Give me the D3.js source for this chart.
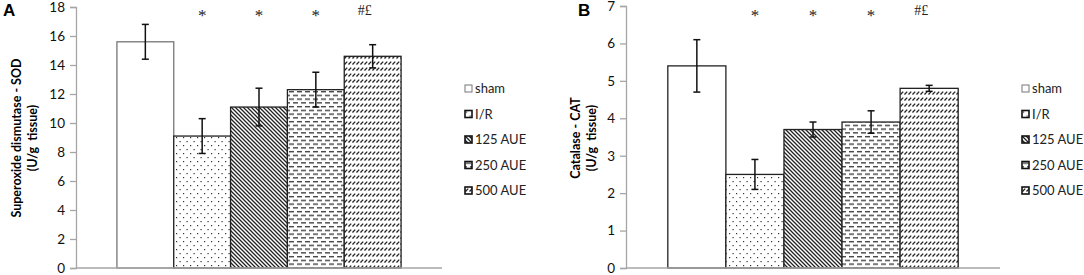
<!DOCTYPE html>
<html>
<head>
<meta charset="utf-8">
<script src="https://cdn.jsdelivr.net/npm/d3@7"></script>
<style>
  body { margin: 0; background: #fff; }
  svg { display: block; }
  text { font-family: Lato, "Open Sans", sans-serif; }
</style>
</head>
<body>
<div id="graph-wrapper"></div>
<script>
// groups shown on both panels
const groups = ["sham", "I/R", "125 AUE", "250 AUE", "500 AUE"];
const patterns = ["none", "dots", "diag", "dash", "slash"];

// panel A - SOD
const sodMean = [15.6, 9.1, 11.1, 12.3, 14.6];
const sodErr = [1.2, 1.2, 1.3, 1.2, 0.8];
const sodTicks = [0, 2, 4, 6, 8, 10, 12, 14, 16, 18];

// panel B - CAT
const catMean = [5.4, 2.5, 3.7, 3.9, 4.8];
const catErr = [0.7, 0.4, 0.2, 0.3, 0.08];
const catTicks = [0, 1, 2, 3, 4, 5, 6, 7];

// significance marks above the bars
const marks = ["", "*", "*", "*", "#£"];

const width = 1084;
const height = 275;

const svg = d3.select("#graph-wrapper").append("svg")
    .attr("width", width)
    .attr("height", height);

// fill patterns
const defs = svg.append("defs");

const dots = defs.append("pattern").attr("id", "dots")
    .attr("patternUnits", "userSpaceOnUse").attr("width", 7).attr("height", 8);
dots.append("rect").attr("width", 7).attr("height", 8).attr("fill", "#fff");
dots.append("rect").attr("x", 1).attr("y", 1).attr("width", 1.2).attr("height", 1.2).attr("fill", "#333");
dots.append("rect").attr("x", 4.5).attr("y", 5).attr("width", 1.2).attr("height", 1.2).attr("fill", "#333");

const diag = defs.append("pattern").attr("id", "diag")
    .attr("patternUnits", "userSpaceOnUse").attr("width", 4).attr("height", 4);
diag.append("rect").attr("width", 4).attr("height", 4).attr("fill", "#fff");
diag.append("path").attr("d", "M0,0L4,4M-1,3L1,5M3,-1L5,1")
    .attr("stroke", "#222").attr("stroke-width", 1.3);

const dash = defs.append("pattern").attr("id", "dash")
    .attr("patternUnits", "userSpaceOnUse").attr("width", 8).attr("height", 7.5);
dash.append("rect").attr("width", 8).attr("height", 7.5).attr("fill", "#fff");
dash.append("rect").attr("x", 1).attr("y", 1).attr("width", 5).attr("height", 1.3).attr("fill", "#333");
dash.append("rect").attr("x", 5).attr("y", 4.75).attr("width", 5).attr("height", 1.3).attr("fill", "#333");
dash.append("rect").attr("x", -3).attr("y", 4.75).attr("width", 5).attr("height", 1.3).attr("fill", "#333");

const slash = defs.append("pattern").attr("id", "slash")
    .attr("patternUnits", "userSpaceOnUse").attr("width", 4).attr("height", 6);
slash.append("rect").attr("width", 4).attr("height", 6).attr("fill", "#fff");
slash.append("path").attr("d", "M0.5,4.5L3.2,1.6")
    .attr("stroke", "#222").attr("stroke-width", 1.3);

function fillOf(i) {
  return patterns[i] === "none" ? "#fff" : `url(#${patterns[i]})`;
}

function drawPanel(o) {
  const g = svg.append("g");

  const y = d3.scaleLinear().domain([0, o.max]).range([268, o.top]);
  const x = d3.scaleBand().domain(groups)
      .range([o.left, o.right]).paddingOuter(0.72).paddingInner(0);

  // y axis
  const yAxis = g.append("g")
      .attr("transform", `translate(${o.left},0)`)
      .call(d3.axisLeft(y).tickValues(o.ticks).tickFormat(d3.format("d"))
        .tickSize(6).tickPadding(5));
  yAxis.select(".domain").attr("stroke", "#a6a6a6").attr("stroke-width", 1.3);
  yAxis.selectAll(".tick line").attr("stroke", "#a6a6a6").attr("stroke-width", 1.3);
  yAxis.selectAll(".tick text").attr("font-size", 13.5).attr("fill", "#111")
      .style("font-family", "Lato, sans-serif");

  // bars
  g.selectAll(".bar").data(o.mean).join("rect")
      .attr("x", (d, i) => x(groups[i]))
      .attr("y", d => y(d))
      .attr("width", x.bandwidth())
      .attr("height", d => y(0) - y(d))
      .attr("fill", (d, i) => fillOf(i))
      .attr("stroke", (d, i) => i === 0 ? o.shamStroke : "#222")
      .attr("stroke-width", 1.3);

  // x axis line
  g.append("line")
      .attr("x1", o.left).attr("x2", o.right)
      .attr("y1", y(0)).attr("y2", y(0))
      .attr("stroke", "#a6a6a6").attr("stroke-width", 1.5);

  // error bars
  const cx = i => x(groups[i]) + x.bandwidth() / 2;
  o.mean.forEach((m, i) => {
    const lo = y(m - o.err[i]), hi = y(m + o.err[i]);
    const eb = g.append("g").attr("stroke", "#111").attr("stroke-width", 1.5);
    eb.append("line").attr("x1", cx(i)).attr("x2", cx(i)).attr("y1", lo).attr("y2", hi);
    eb.append("line").attr("x1", cx(i) - 3.5).attr("x2", cx(i) + 3.5).attr("y1", lo).attr("y2", lo);
    eb.append("line").attr("x1", cx(i) - 3.5).attr("x2", cx(i) + 3.5).attr("y1", hi).attr("y2", hi);
  });

  // significance marks
  g.selectAll(".mark").data(marks).join("text")
      .attr("x", (d, i) => cx(i) - (i === 4 ? 8 : 0))
      .attr("y", (d, i) => i === 4 ? 15 : 21)
      .attr("text-anchor", "middle")
      .attr("font-size", (d, i) => i === 4 ? 14 : 17)
      .attr("fill", "#222")
      .style("font-family", "'Liberation Serif', serif")
      .text(d => d);

  // y label, two lines
  const lab = g.append("text")
      .attr("transform", `translate(${o.labX},138) rotate(-90)`)
      .attr("text-anchor", "middle")
      .attr("font-size", 12.5)
      .attr("font-weight", "bold");
  lab.append("tspan").attr("x", 0).attr("dy", 0).text(o.label);
  lab.append("tspan").attr("x", 0).attr("dy", 16).text("(U/g\u00a0 tissue)");

  // panel letter
  g.append("text").attr("x", o.letterX).attr("y", 16)
      .attr("font-size", 17).attr("font-weight", "bold")
      .style("font-family", "'Liberation Sans', Arial, sans-serif")
      .text(o.letter);

  // legend
  const lg = g.append("g").attr("transform", `translate(${o.legX},85)`);
  groups.forEach((name, i) => {
    const row = lg.append("g").attr("transform", `translate(0,${i * 25.5})`);
    row.append("rect").attr("width", 7).attr("height", 7)
        .attr("fill", fillOf(i))
        .attr("stroke", i === 0 ? "#777" : "#111")
        .attr("stroke-width", i === 0 ? 1 : 1.6);
    row.append("text").attr("x", 10).attr("y", 8)
        .attr("font-size", 13).attr("fill", "#222")
        .text(name);
  });
}

drawPanel({
  mean: sodMean, err: sodErr, ticks: sodTicks, max: 18, top: 7,
  left: 76, right: 442, labX: 21, label: "Superoxide dismutase - SOD",
  letter: "A", letterX: 3, legX: 465, shamStroke: "#777"
});

drawPanel({
  mean: catMean, err: catErr, ticks: catTicks, max: 7, top: 6,
  left: 626, right: 1000, labX: 580, label: "Catalase - CAT",
  letter: "B", letterX: 578, legX: 1022, shamStroke: "#222"
});
</script>
</body>
</html>
